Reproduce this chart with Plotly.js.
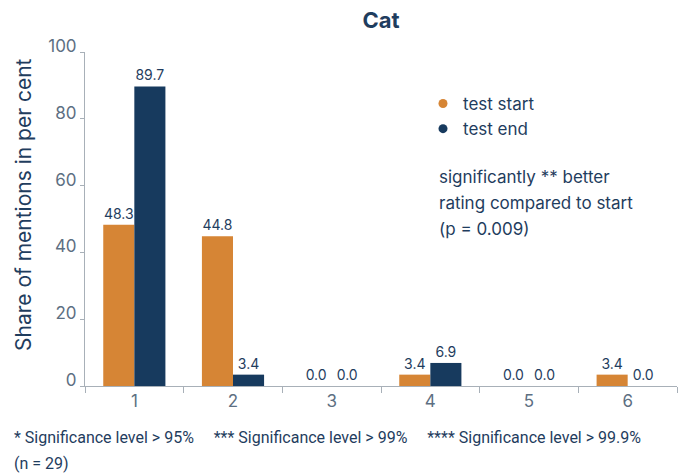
<!DOCTYPE html>
<html><head><meta charset="utf-8">
<script src="https://cdn.plot.ly/plotly-3.0.1.min.js"></script>
<style>html,body{margin:0;padding:0;background:#fff}#chart{width:683px;height:475px}</style>
</head><body><div id="chart"></div>
<script>
const categories = ["1","2","3","4","5","6"];
const testStart = [48.3, 44.8, 0.0, 3.4, 0.0, 3.4];
const testEnd = [89.7, 3.4, 0.0, 6.9, 0.0, 0.0];
const seriesNames = ["test start", "test end"];
const yTicks = [0, 20, 40, 60, 80, 100];
const yTitle = "Share of mentions in per cent";
const noteLines = ["significantly ** better", "rating compared to start", "(p = 0.009)"];
const footnote1 = "* Significance level > 95%     *** Significance level > 99%     **** Significance level > 99.9%";
const footnote2 = "(n = 29)";

const ORANGE = "#D68535", NAVY = "#173A5E", TXT = "#1f3d5e", GREY = "#5d6f82";
const FONT = "Inter, 'Open Sans', sans-serif";

const fmt = v => v.toFixed(1);
const traces = [
  {type:"bar", x:categories, y:testStart, name:seriesNames[0], marker:{color:ORANGE},
   text:testStart.map(fmt), textposition:"outside", cliponaxis:false,
   textfont:{color:TXT, size:14, family:FONT}, showlegend:false, hoverinfo:"none"},
  {type:"bar", x:categories, y:testEnd, name:seriesNames[1], marker:{color:NAVY},
   text:testEnd.map(fmt), textposition:"outside", cliponaxis:false,
   textfont:{color:TXT, size:14, family:FONT}, showlegend:false, hoverinfo:"none"},
  {type:"scatter", mode:"markers", x:[null], y:[null], name:seriesNames[0],
   marker:{color:ORANGE, size:9, symbol:"circle"}},
  {type:"scatter", mode:"markers", x:[null], y:[null], name:seriesNames[1],
   marker:{color:NAVY, size:9, symbol:"circle"}}
];

const PL = 85, PR = 6, PT = 52, PB = 89, W = 683, H = 475;
const PW = W - PL - PR, PH = H - PT - PB;
const px = x => (x - PL) / PW;
const py = y => (H - PB - y) / PH;

const annotations = noteLines.map((t, i) => ({
  text: t, xref:"paper", yref:"paper", x: px(437), y: py(177 + 26*i),
  xanchor:"left", yanchor:"middle", showarrow:false, align:"left",
  font:{size:17, color:TXT, family:FONT}
}));
annotations.push({text: yTitle, xref:"paper", yref:"paper", x: px(23), y: py(205),
  xanchor:"center", yanchor:"middle", textangle:-90, showarrow:false,
  font:{size:21, color:TXT, family:FONT}});
annotations.push({text: footnote1, xref:"paper", yref:"paper", x: px(12), y: py(437),
  xanchor:"left", yanchor:"middle", showarrow:false, font:{size:16, color:TXT, family:"Roboto, sans-serif"}});
annotations.push({text: footnote2, xref:"paper", yref:"paper", x: px(12), y: py(463),
  xanchor:"left", yanchor:"middle", showarrow:false, font:{size:16, color:TXT, family:"Roboto, sans-serif"}});

const layout = {
  width: W, height: H,
  margin:{l:PL, r:PR, t:PT, b:PB, pad:0},
  paper_bgcolor:"#fff", plot_bgcolor:"#fff",
  title:{text:"<b>Cat</b>", x:0.5, xref:"paper", xanchor:"center", y:1 - 20/H, yanchor:"middle",
    font:{size:22, color:TXT, family:FONT}},
  barmode:"group", bargap:0.37, bargroupgap:0,
  font:{family:FONT, color:TXT},
  xaxis:{type:"category", showline:true, linecolor:"#a8b0b8", linewidth:1,
    ticks:"outside", tickson:"boundaries", ticklen:6, tickcolor:"#a8b0b8",
    tickfont:{size:17, color:GREY, family:FONT}, showgrid:false, zeroline:false},
  yaxis:{range:[0,100], tickvals:yTicks, showline:true, linecolor:"#a8b0b8", linewidth:1,
    ticks:"outside", ticklen:4, tickcolor:"#a8b0b8", showgrid:false, zeroline:false,
    ticklabelshift:-6,
    tickfont:{size:17, color:GREY, family:FONT}},
  legend:{x:px(423), y:py(86), xanchor:"left", yanchor:"top", bgcolor:"rgba(0,0,0,0)",
    font:{size:17, color:TXT, family:FONT}, itemwidth:30, tracegroupgap:0},
  annotations: annotations,
  showlegend:true
};
Plotly.newPlot("chart", traces, layout, {displayModeBar:false, staticPlot:true});
</script></body></html>
